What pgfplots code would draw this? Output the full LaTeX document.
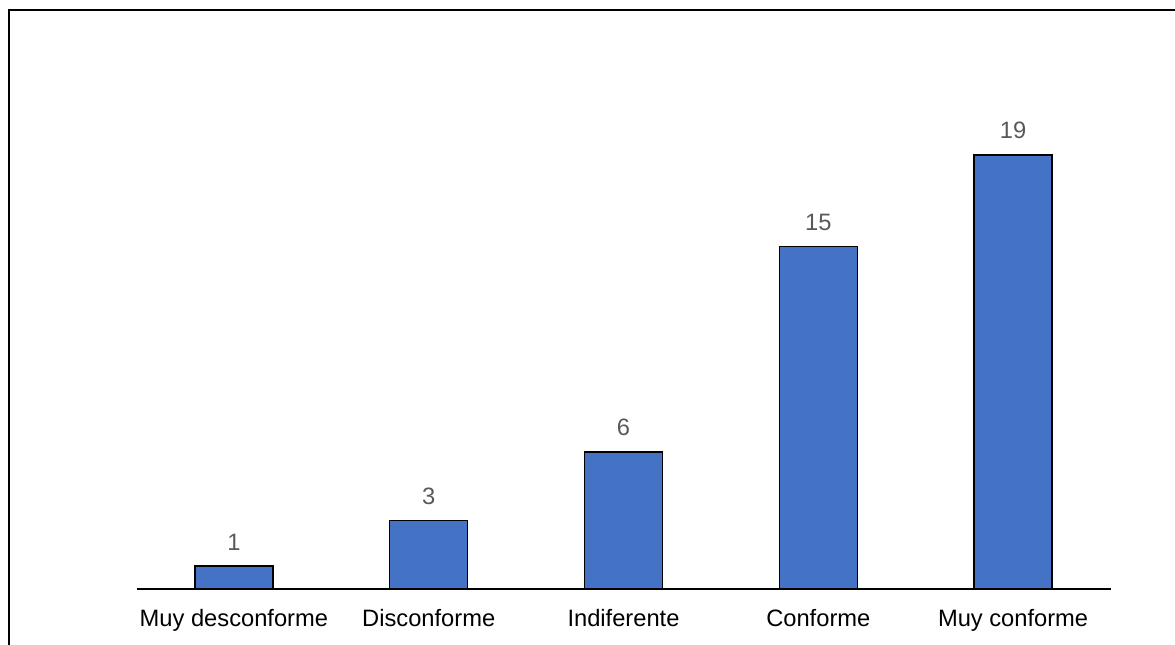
\documentclass[border=0pt]{standalone}
\usepackage{pgfplots}
\pgfplotsset{compat=1.18}
\usepackage{fontspec}
\setmainfont{Liberation Sans}
\definecolor{barblue}{HTML}{4472C4}
\definecolor{lblgray}{HTML}{595959}
\begin{document}
\begin{tikzpicture}
\path[use as bounding box] (0,0) rectangle (1175pt,645pt);
\draw[line width=2pt] (9pt,-1pt) -- (9pt,635pt) -- (1180pt,635pt);
\begin{axis}[
  at={(136.5pt,56pt)}, anchor=south west,
  scale only axis, width=974pt, height=434pt,
  xmin=-0.5, xmax=4.5, ymin=0, ymax=19,
  axis x line*=bottom, axis y line=none,
  x axis line style={-, line width=1.4pt},
  xtick=data, major tick length=0pt,
  xticklabels={Muy desconforme, Disconforme, Indiferente, Conforme, Muy conforme},
  xticklabel style={anchor=base, inner sep=0pt, yshift=-37pt, font=\fontsize{23.7}{28}\selectfont},
  ytick=\empty,
  /pgf/number format/assume math mode=true,
  ybar, bar width=78pt,
  nodes near coords,
  every node near coord/.append style={anchor=base, inner sep=0pt, yshift=16pt, text=lblgray, font=\fontsize{23.7}{28}\selectfont},
  clip=false,
]
\addplot[fill=barblue, draw=black, line width=1.4pt] coordinates {(0,1) (1,3) (2,6) (3,15) (4,19)};
\end{axis}
\end{tikzpicture}
\end{document}
